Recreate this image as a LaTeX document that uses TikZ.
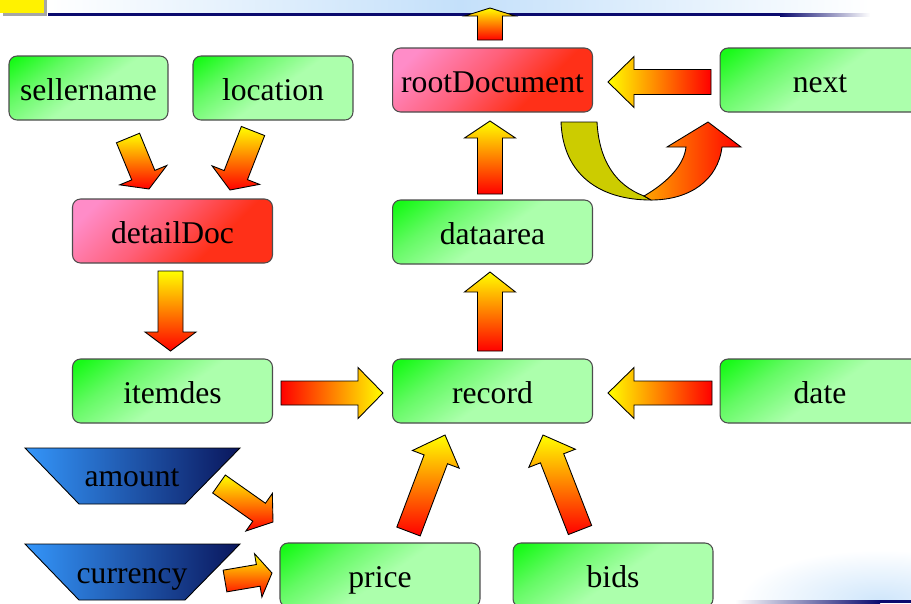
\documentclass[tikz,border=0pt]{standalone}
\usepackage{fontspec}
\setmainfont{Liberation Serif}
\usetikzlibrary{calc}

\definecolor{leafhi}{RGB}{24,250,24}
\definecolor{leafmid}{RGB}{100,250,100}
\definecolor{leaflo}{RGB}{172,255,172}
\definecolor{roothi}{RGB}{255,140,200}
\definecolor{rootmid}{RGB}{255,95,120}
\definecolor{rootlo}{RGB}{255,48,24}
\definecolor{traphi}{RGB}{52,150,250}
\definecolor{traplo}{RGB}{10,22,92}
\definecolor{barnavy}{RGB}{10,10,110}
\definecolor{bandblue}{RGB}{196,224,250}
\definecolor{loopolive}{RGB}{204,204,0}
\definecolor{loopamber}{RGB}{255,165,0}

\pgfdeclarehorizontalshading{leafshade}{100bp}{color(0bp)=(leafhi); color(18bp)=(leafhi); color(33bp)=(leafmid); color(52bp)=(leaflo); color(100bp)=(leaflo)}
\pgfdeclarehorizontalshading{rootshade}{100bp}{color(0bp)=(roothi); color(22bp)=(roothi); color(45bp)=(rootmid); color(65bp)=(rootlo); color(100bp)=(rootlo)}

\tikzset{
	box/.style={rectangle, rounded corners=0.16cm, draw=black!70, line width=0.6pt, minimum width=4cm, minimum height=1.28cm, inner sep=0pt, text height=0.6cm, text depth=0.1cm, font=\fontsize{18}{21}\selectfont},
	leaf/.style={box, shading=leafshade, shading angle=-55},
	rootbox/.style={box, shading=rootshade, shading angle=-45},
	trap/.style={draw=black, line width=0.5pt, left color=traphi, right color=traplo},
	trapname/.style={inner sep=0pt, text height=0.6cm, text depth=0.1cm, font=\fontsize{18}{21}\selectfont},
	arrowline/.style={draw=black, line width=0.5pt, line join=miter},
	warmv/.style={top color=yellow, bottom color=red},
	warml/.style={left color=yellow, right color=red},
	warmr/.style={left color=red, right color=yellow}
}

% block arrow: [fill](tail)(tip)(shaft half width:head half width:head length)
\def\blockarrow[#1](#2)(#3)(#4:#5:#6){%
	\coordinate (bh) at ($(#3)!#6!(#2)$);
	\draw[arrowline,#1] ($(#2)!#4!90:(#3)$) -- ($(bh)!#4!90:(#3)$) -- ($(bh)!#5!90:(#3)$) -- (#3) -- ($(bh)!#5!-90:(#3)$) -- ($(bh)!#4!-90:(#3)$) -- ($(#2)!#4!-90:(#3)$) -- cycle;}

\begin{document}
\begin{tikzpicture}[x=0.02cm, y=-0.02cm]
		%%%%% START %%%%%
		\useasboundingbox (0,0) rectangle (911,603);
		\clip (0,0) rectangle (911,603);
		
		% title bar
		\shade[left color=white, right color=white, middle color=bandblue] (50,0) rectangle (870,13);
		\fill[barnavy] (48,13) rectangle (780,16);
		\shade[left color=barnavy, right color=white] (780,13) rectangle (870,16);
		\fill[black!35] (3,0) rectangle (47,16);
		\fill[yellow] (0,0) rectangle (44,13);
		
		% bottom corner
		\begin{scope}
			\clip (730,540) rectangle (911,600);
			\shade[inner color=bandblue!80, outer color=white] (740,550) rectangle (1020,650);
		\end{scope}
		\shade[left color=white, right color=barnavy] (735,600) rectangle (880,603);
		\fill[barnavy] (880,600) rectangle (911,603);
		
		% boxes
		\node[leaf, minimum width=3.18cm] (sellername) at (88.5,88) {sellername};
		\node[leaf, minimum width=3.2cm] (location) at (273,88) {location};
		\node[rootbox] (rootDocument) at (492.5,80) {rootDocument};
		\node[leaf] (next) at (820,80) {next};
		\node[rootbox] (detailDoc) at (172.5,231) {detailDoc};
		\node[leaf] (dataarea) at (492.5,232) {dataarea};
		\node[leaf] (itemdes) at (172.5,391) {itemdes};
		\node[leaf] (record) at (492.5,391) {record};
		\node[leaf] (date) at (820,391) {date};
		\node[leaf] (price) at (380,575) {price};
		\node[leaf] (bids) at (613,575) {bids};
		
		\draw[trap] (25,448) -- (240,448) -- (185,504) -- (79,504) -- cycle;
		\node[trapname] (amount) at (132,474) {amount};
		\draw[trap] (25,544) -- (240,544) -- (185,600) -- (79,600) -- cycle;
		\node[trapname] (currency) at (132,570.5) {currency};
		
		% arrow ends
		\coordinate (top-t) at (490,40);
		\coordinate (top-h) at (490,8);
		\coordinate (da-t) at (490,194);
		\coordinate (da-h) at (490,121);
		\coordinate (rec-t) at (490,351);
		\coordinate (rec-h) at (490,272);
		\coordinate (dd-t) at (170.5,271);
		\coordinate (dd-h) at (170.5,351);
		\coordinate (it-t) at (281,393);
		\coordinate (it-h) at (383,393);
		\coordinate (date-t) at (712,393);
		\coordinate (date-h) at (608,393);
		\coordinate (next-t) at (711,82);
		\coordinate (next-h) at (608,82);
		\coordinate (sn-t) at (128,138);
		\coordinate (sn-h) at (149,189);
		\coordinate (loc-t) at (253,131);
		\coordinate (loc-h) at (230,190);
		\coordinate (pr-t) at (408.5,531.5);
		\coordinate (pr-h) at (445,435);
		\coordinate (bid-t) at (580,530);
		\coordinate (bid-h) at (543,435);
		\coordinate (am-t) at (219,484);
		\coordinate (am-h) at (273,522);
		\coordinate (cur-t) at (225,581);
		\coordinate (cur-h) at (272,573);
		
		\blockarrow[warmv](top-t)(top-h)(0.25cm:0.51cm:0.16cm);
		\blockarrow[warmv](da-t)(da-h)(0.25cm:0.51cm:0.34cm);
		\blockarrow[warmv](rec-t)(rec-h)(0.25cm:0.51cm:0.4cm);
		\blockarrow[warmv](dd-t)(dd-h)(0.25cm:0.51cm:0.38cm);
		\blockarrow[warmr](it-t)(it-h)(0.24cm:0.51cm:0.5cm);
		\blockarrow[warml](date-t)(date-h)(0.24cm:0.51cm:0.52cm);
		\blockarrow[warml](next-t)(next-h)(0.25cm:0.51cm:0.52cm);
		\blockarrow[warmv](sn-t)(sn-h)(0.25cm:0.51cm:0.3cm);
		\blockarrow[warmv](loc-t)(loc-h)(0.25cm:0.51cm:0.32cm);
		\blockarrow[warmv](pr-t)(pr-h)(0.25cm:0.5cm:0.52cm);
		\blockarrow[warmv](bid-t)(bid-h)(0.25cm:0.5cm:0.5cm);
		\blockarrow[warmv](am-t)(am-h)(0.22cm:0.46cm:0.34cm);
		\blockarrow[warmv](cur-t)(cur-h)(0.22cm:0.44cm:0.28cm);
		
		% loop back to rootDocument
		\draw[arrowline, fill=loopolive] (561,122) .. controls (563,175) and (600,200) .. (651,200) -- (644,196) .. controls (615,185) and (599,160) .. (597,122) -- cycle;
		\draw[arrowline, left color=loopamber, right color=red] (644,196) .. controls (668,182) and (684,165) .. (686,147) -- (667,147) -- (708,122) -- (741,147) -- (722,147) .. controls (718,180) and (690,200) .. (651,200) -- cycle;
		
		%%%%% END %%%%%
\end{tikzpicture}
\end{document}
